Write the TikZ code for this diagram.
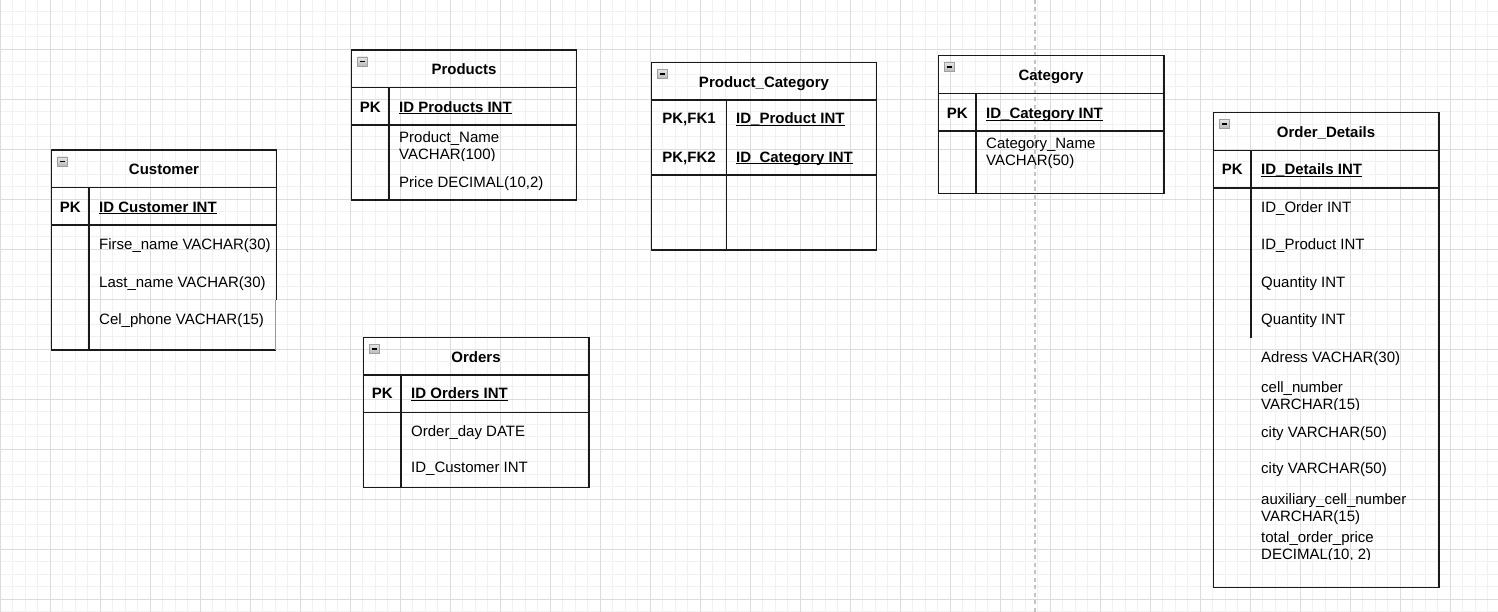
\documentclass[tikz,border=0pt]{standalone}
\usepackage{fontspec}
\setmainfont{Liberation Sans}
\newcommand\fs{\fontsize{15}{18}\selectfont}
\newcommand\keyul[1]{\setbox0\hbox{#1}\rlap{\rule[-2.3pt]{\wd0}{1.1pt}}\box0}
\definecolor{minorgrid}{HTML}{F1F1F1}
\definecolor{majorgrid}{HTML}{DCDCDC}
\definecolor{pagebreak}{HTML}{C4C4C4}
\definecolor{linecol}{HTML}{1A1A1A}
\begin{document}
\begin{tikzpicture}[x=1pt,y=-1pt,
  tbl/.style={line width=1.3pt, draw=linecol},
  ttl/.style={anchor=base, inner sep=0pt, font=\fs\bfseries},
  keytxt/.style={anchor=base, inner sep=0pt, font=\fs\bfseries},
  fld/.style={anchor=base west, inner sep=0pt, font=\fs},
  kfld/.style={anchor=base west, inner sep=0pt, font=\fs\bfseries},
  minusicon/.pic={
    \draw[draw=gray!75, top color=gray!20, bottom color=gray!55, line width=0.6pt] (0,0) rectangle (10,9);
    \draw[black, line width=1.3pt] (2.2,4.5) -- (7.8,4.5);
  }]
\useasboundingbox (0,0) rectangle (1498,612);
% grid
\foreach \i in {0,...,119} \draw[minorgrid, line width=0.8pt] (\i*12.5,0) -- (\i*12.5,612);
\foreach \i in {0,...,49} \draw[minorgrid, line width=0.8pt] (0,\i*12.5-1) -- (1498,\i*12.5-1);
\foreach \i in {0,...,29} \draw[majorgrid, line width=0.8pt] (\i*50,0) -- (\i*50,612);
\foreach \i in {0,...,12} \draw[majorgrid, line width=0.8pt] (0,\i*50-1) -- (1498,\i*50-1);
\draw[pagebreak, line width=1.3pt, dash pattern=on 4pt off 3.5pt] (1035,0) -- (1035,612);

% ---------- Customer ----------
\draw[tbl] (276.5,300) -- (276.5,150) -- (51.5,150) -- (51.5,350) -- (275.5,350);
\draw[line width=1pt, draw=gray!80] (275.5,300) -- (275.5,350);
\draw[tbl] (51.5,187.5) -- (276.5,187.5);
\draw[tbl] (51.5,225) -- (276.5,225);
\draw[tbl] (89,187.5) -- (89,350);
\pic at (57.5,157) {minusicon};
\node[ttl] (cusT) at (164,174.4) {Customer};
\node[keytxt] (cusK) at (70.3,212.1) {PK};
\node[kfld] (cusPK) at (99,212.1) {\keyul{ID Customer INT}};
\node[fld] (cusF1) at (99,249.7) {Firse\_name VACHAR(30)};
\node[fld] (cusF2) at (99,287.1) {Last\_name VACHAR(30)};
\node[fld] (cusF3) at (99,324.4) {Cel\_phone VACHAR(15)};

% ---------- Products ----------
\draw[tbl] (351.5,50) rectangle (576.5,200);
\draw[tbl] (351.5,87.5) -- (576.5,87.5);
\draw[tbl] (351.5,125) -- (576.5,125);
\draw[tbl] (389,87.5) -- (389,200);
\pic at (357.5,57) {minusicon};
\node[ttl] (proT) at (464,74.4) {Products};
\node[keytxt] (proK) at (370.3,112.1) {PK};
\node[kfld] (proPK) at (399,112.1) {\keyul{ID Products INT}};
\begin{scope}
\clip (390,126) rectangle (575,160.3);
\node[fld] (proF1) at (399,142.1) {Product\_Name};
\node[fld] (proF1b) at (399,159.6) {VACHAR(100)};
\end{scope}
\node[fld] (proF2) at (399,187.1) {Price DECIMAL(10,2)};

% ---------- Product_Category ----------
\draw[tbl] (651.5,62.5) rectangle (876.5,250);
\draw[tbl] (651.5,100) -- (876.5,100);
\draw[tbl] (651.5,175) -- (876.5,175);
\draw[tbl] (726.5,100) -- (726.5,250);
\pic at (657.5,69.5) {minusicon};
\node[ttl] (pcT) at (764,87.1) {Product\_Category};
\node[keytxt] (pcK1) at (689,123.7) {PK,FK1};
\node[keytxt] (pcK2) at (689,162.1) {PK,FK2};
\node[kfld] (pcF1) at (736,123.7) {\keyul{ID\_Product INT}};
\node[kfld] (pcF2) at (736,162.1) {\keyul{ID\_Category INT}};

% ---------- Category ----------
\draw[tbl] (938.5,55.5) rectangle (1164,193.5);
\draw[tbl] (938.5,93.5) -- (1164,93.5);
\draw[tbl] (938.5,131) -- (1164,131);
\draw[tbl] (976,93.5) -- (976,193.5);
\pic at (944.5,62.5) {minusicon};
\node[ttl] (catT) at (1051,80.4) {Category};
\node[keytxt] (catK) at (957.2,118.7) {PK};
\node[kfld] (catPK) at (986,118.7) {\keyul{ID\_Category INT}};
\node[fld] (catF1) at (986,148.1) {Category\_Name};
\node[fld] (catF1b) at (986,165.4) {VACHAR(50)};

% ---------- Orders ----------
\draw[tbl] (363.5,337.5) rectangle (589,487.5);
\draw[tbl] (363.5,375) -- (589,375);
\draw[tbl] (363.5,412.5) -- (589,412.5);
\draw[tbl] (401,375) -- (401,487.5);
\pic at (369.5,344.5) {minusicon};
\node[ttl] (ordT) at (476,362.1) {Orders};
\node[keytxt] (ordK) at (382.2,398.7) {PK};
\node[kfld] (ordPK) at (411,398.7) {\keyul{ID Orders INT}};
\node[fld] (ordF1) at (411,436.4) {Order\_day DATE};
\node[fld] (ordF2) at (411,472.7) {ID\_Customer INT};

% ---------- Order_Details ----------
\draw[tbl] (1213.5,112.5) rectangle (1439,587.5);
\draw[tbl] (1213.5,150.5) -- (1439,150.5);
\draw[tbl] (1213.5,188) -- (1439,188);
\draw[tbl] (1251,150.5) -- (1251,337.5);
\pic at (1219.5,119.5) {minusicon};
\node[ttl] (odT) at (1326,137.1) {Order\_Details};
\node[keytxt] (odK) at (1232.2,174.4) {PK};
\node[kfld] (odPK) at (1261,174.4) {\keyul{ID\_Details INT}};
\node[fld] (odF1) at (1261,212.1) {ID\_Order INT};
\node[fld] (odF2) at (1261,249.4) {ID\_Product INT};
\node[fld] (odF3) at (1261,287.1) {Quantity INT};
\node[fld] (odF4) at (1261,324.4) {Quantity INT};
\node[fld] (odF5) at (1261,362.1) {Adress VACHAR(30)};
\begin{scope}
\clip (1252,375) rectangle (1438,409.2);
\node[fld] (odF6) at (1261,392.1) {cell\_number};
\node[fld] (odF6b) at (1261,409.4) {VARCHAR(15)};
\end{scope}
\node[fld] (odF7) at (1261,437.1) {city VARCHAR(50)};
\node[fld] (odF8) at (1261,473.7) {city VARCHAR(50)};
\node[fld] (odF9) at (1261,504.7) {auxiliary\_cell\_number};
\node[fld] (odF9b) at (1261,521.4) {VARCHAR(15)};
\begin{scope}
\clip (1252,525) rectangle (1438,559.5);
\node[fld] (odF10) at (1261,542.1) {total\_order\_price};
\node[fld] (odF10b) at (1261,559.4) {DECIMAL(10, 2)};
\end{scope}
\end{tikzpicture}
\end{document}
